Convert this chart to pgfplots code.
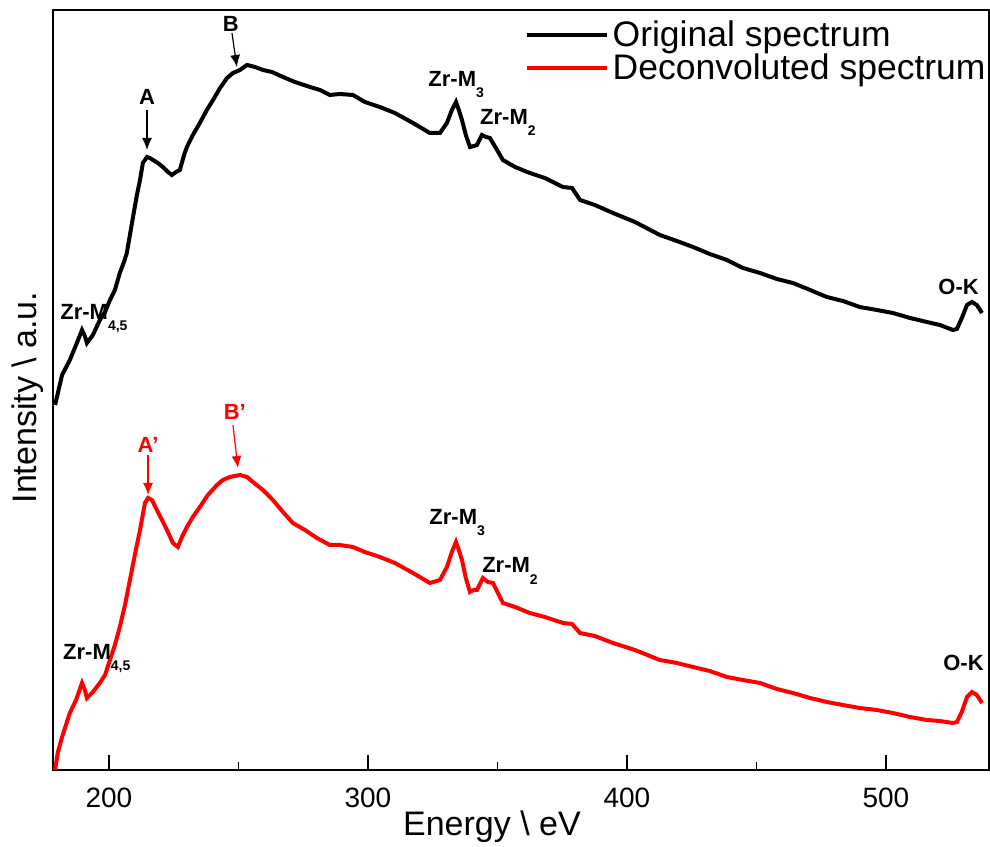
\documentclass[border=0pt]{standalone}
\usepackage{pgfplots}
\pgfplotsset{compat=1.18}
\usepackage{fontspec}
\setmainfont{Liberation Sans}
\usetikzlibrary{arrows.meta}
\newcommand{\sub}[1]{\raisebox{-5.5pt}{\fontsize{7}{7}\selectfont #1}}
\begin{document}
\begin{tikzpicture}
\begin{axis}[
  at={(0pt,0pt)}, anchor=south west,
  scale only axis, width=468pt, height=380pt,
  xmin=178.4, xmax=539.8, ymin=0, ymax=760,
  xtick={200,300,400,500}, minor xtick={250,350,450},
  ytick=\empty,
  xtick pos=bottom, tick align=inside,
  major tick length=7.5pt, minor tick length=4pt,
  every tick/.style={black, line width=0.9pt},
  axis line style={line width=1.1pt},
  /pgf/number format/assume math mode=true,
  xticklabel style={font=\fontsize{14}{16}\selectfont, anchor=center, yshift=-14pt},
  xlabel={Energy \textbackslash\ eV},
  ylabel={Intensity \textbackslash\ a.u.},
  label style={font=\fontsize{17}{19}\selectfont},
  xlabel style={at={(axis description cs:0.469,0)}, anchor=center, yshift=-28.5pt},
  ylabel style={at={(axis description cs:-0.0267,0.49)}, anchor=center},
  legend style={draw=none, fill=none, at={(axis description cs:1,1)}, anchor=north east,
    xshift=1.5pt, yshift=-2pt, font=\fontsize{17.75}{19}\selectfont, inner sep=1pt,
    row sep=-1.5pt},
  legend cell align=left,
  legend image code/.code={\draw[#1] (0pt,0pt) -- (40pt,0pt);},
  clip=false,
]
\addplot[black, line width=2pt] coordinates {
(179.2,365) (181.9,395) (184.9,410) (187.3,425) (189.6,440) (190.7,434) (191.5,427)
(193.8,435) (196.5,450) (198.5,458) (200.4,470) (202.3,480) (204.2,497) (205.8,508)
(206.9,517) (208.1,535) (209.3,553) (210.8,575) (212.0,590) (213.1,607) (214.7,613)
(215.8,612) (217.0,610) (218.9,607) (220.8,603) (222.8,598) (224.3,595) (225.9,598)
(227.4,600) (229.0,615) (230.1,623) (232.4,635) (235.1,647) (237.8,660) (240.2,670)
(242.9,682) (245.6,692) (247.9,697) (250.6,700) (253.3,705) (256.4,703) (259.5,700)
(262.9,698) (267.2,693) (271.8,688) (277.6,683) (281.5,680) (285.3,675) (289.2,676)
(294.2,675) (298.8,668) (304.6,663) (310.4,657) (317.4,647) (323.9,637) (327.8,637)
(330.5,647) (332.4,660) (334.0,668) (335.1,660) (336.3,650) (337.8,635) (339.4,623)
(340.9,624) (342.1,625) (344.0,635) (345.6,633) (347.1,632) (349.4,622) (352.1,610)
(356.8,603) (362.5,597) (368.3,592) (375.3,583) (378.8,582) (381.9,570) (387.6,565)
(394.6,557) (403.1,548) (412.7,535) (419.3,529) (425.5,523) (432.0,516) (438.6,510)
(444.8,502) (451.4,497) (457.9,491) (464.1,487) (470.7,480) (477.2,473) (483.4,469)
(489.9,463) (496.5,460) (502.7,457) (509.3,452) (515.8,448) (520.8,445) (525.9,440)
(527.4,441) (529.3,452) (531.3,465) (533.2,468) (535.1,465) (537.1,457)
};
\addlegendentry{Original spectrum}
\addplot[red, line width=2pt] coordinates {
(179.2,0) (180.3,18) (181.9,33) (183.4,45) (184.9,57) (187.3,70) (189.6,87) (190.7,80)
(191.5,72) (193.8,78) (196.5,87) (198.5,95) (200.4,110) (202.3,125) (204.2,143)
(206.2,165) (208.1,190) (210.0,215) (212.0,240) (213.9,267) (215.1,272) (216.6,270)
(218.5,260) (220.5,250) (222.4,240) (224.7,227) (226.6,223) (228.2,233) (230.1,243)
(232.4,253) (235.1,263) (238.2,275) (241.7,285) (244.0,290) (246.7,293) (250.6,295)
(253.3,293) (255.6,288) (259.5,280) (263.3,270) (267.2,258) (271.0,247) (275.7,240)
(280.3,232) (285.3,225) (289.2,225) (294.2,223) (298.8,218) (304.6,213) (310.4,207)
(317.4,197) (323.9,187) (327.8,190) (330.5,203) (332.4,218) (334.0,228) (335.1,220)
(336.3,210) (337.8,192) (339.4,178) (340.9,180) (342.1,180) (344.4,192) (346.3,188)
(348.3,187) (350.2,177) (352.1,167) (356.8,163) (362.5,157) (368.3,153) (375.3,147)
(378.8,146) (381.9,137) (387.6,134) (394.6,127) (403.1,120) (412.7,110) (419.3,107)
(425.5,103) (432.0,99) (438.6,93) (444.8,90) (451.4,87) (457.9,81) (464.1,77)
(470.7,72) (477.2,68) (483.4,65) (489.9,62) (496.5,60) (502.7,57) (509.3,53)
(515.8,50) (520.8,49) (525.9,47) (527.4,48) (529.3,58) (531.3,73) (533.2,78)
(535.1,75) (537.1,67)
};
\addlegendentry{Deconvoluted spectrum}
% annotations
\begin{scope}[every node/.style={font=\bfseries\fontsize{11}{12}\selectfont, inner sep=0pt}]
\node[anchor=base west] at (axis cs:181.1,450) {Zr-M\sub{4,5}};
\node[anchor=base west] at (axis cs:182.2,111) {Zr-M\sub{4,5}};
\node[anchor=base west] at (axis cs:323.2,683) {Zr-M\sub{3}};
\node[anchor=base west] at (axis cs:343.2,645) {Zr-M\sub{2}};
\node[anchor=base west] at (axis cs:323.6,245) {Zr-M\sub{3}};
\node[anchor=base west] at (axis cs:344.0,197) {Zr-M\sub{2}};
\node[anchor=base west] at (axis cs:520.1,475) {O-K};
\node[anchor=base west] at (axis cs:522.0,100) {O-K};
\node[anchor=base] at (axis cs:214.7,665) {A};
\node[anchor=base] at (axis cs:247.1,738) {B};
\node[anchor=base, red] at (axis cs:215.1,317) {A'};
\node[anchor=base, red] at (axis cs:248.6,350) {B'};
\end{scope}
\draw[-{Latex[length=6pt,width=5pt]}, line width=0.6pt] (axis cs:214.7,660) -- (axis cs:214.7,620);
\draw[-{Latex[length=6pt,width=5pt]}, line width=0.6pt] (axis cs:247.5,737) -- (axis cs:249.4,703);
\draw[red, -{Latex[length=6pt,width=5pt]}, line width=0.6pt] (axis cs:215.1,315) -- (axis cs:215.1,275);
\draw[red, -{Latex[length=6pt,width=5pt]}, line width=0.6pt] (axis cs:247.9,345) -- (axis cs:249.8,302);
\end{axis}
\pgfresetboundingbox
\useasboundingbox (-26.5pt,-38pt) rectangle (468.5pt,385pt);
\end{tikzpicture}
\end{document}
